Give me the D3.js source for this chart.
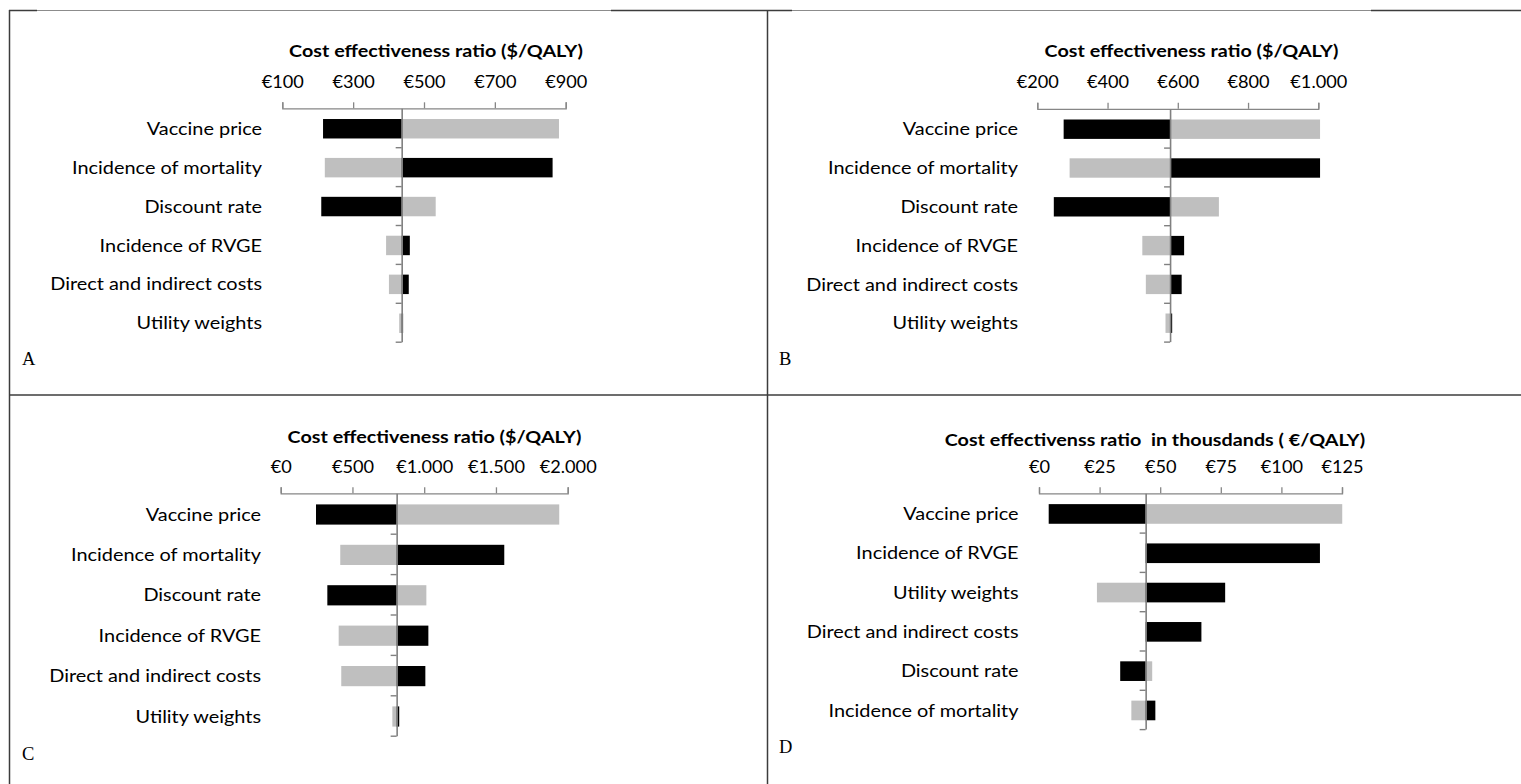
<!DOCTYPE html>
<html>
<head>
<meta charset="utf-8">
<script src="https://cdn.jsdelivr.net/npm/d3@7"></script>
<style>
  body { margin: 0; background: #ffffff; }
  svg { display: block; }
</style>
</head>
<body>
<svg id="chart" width="1521" height="784"></svg>
<script>
// ---------------- DATA ----------------
const titleABC = "Cost effectiveness ratio ($/QALY)";
const titleD = "Cost effectivenss ratio  in thousdands ( €/QALY)";

const categoriesA = ["Vaccine price", "Incidence of mortality", "Discount rate", "Incidence of RVGE", "Direct and indirect costs", "Utility weights"];
const baseA = 437;
const lowInputA = [215, 863, 210, 460, 457, 441];    // black bars
const highInputA = [881, 220, 533, 393, 401, 430];   // grey bars
const ticksA = [100, 300, 500, 700, 900];

const categoriesB = ["Vaccine price", "Incidence of mortality", "Discount rate", "Incidence of RVGE", "Direct and indirect costs", "Utility weights"];
const baseB = 578;
const lowInputB = [275, 1005, 247, 618, 611, 584];
const highInputB = [1005, 292, 717, 499, 509, 565];
const ticksB = [200, 400, 600, 800, 1000];

const categoriesC = ["Vaccine price", "Incidence of mortality", "Discount rate", "Incidence of RVGE", "Direct and indirect costs", "Utility weights"];
const baseC = 808;
const lowInputC = [246, 1558, 325, 1029, 1008, 826];
const highInputC = [1941, 415, 1015, 404, 422, 778];
const ticksC = [0, 500, 1000, 1500, 2000];

const categoriesD = ["Vaccine price", "Incidence of RVGE", "Utility weights", "Direct and indirect costs", "Discount rate", "Incidence of mortality"];
const baseD = 44;
const lowInputD = [4, 115.9, 76.8, 67, 33.5, 48];
const highInputD = [125.1, 44, 23.9, 44, 46.7, 38.1];
const ticksD = [0, 25, 50, 75, 100, 125];

const panelLetters = ["A", "B", "C", "D"];

// ---------------- SETUP ----------------
const svg = d3.select("#chart");
const FONT = "Lato, 'Open Sans', sans-serif";
const SERIF = "'Liberation Serif', 'DejaVu Serif', serif";
const LABEL_SIZE = 17;
const TICK_SIZE = 17;
const TITLE_SIZE = 17.5;

const euro = d3.formatLocale({ decimal: ",", thousands: ".", grouping: [3], currency: ["€", ""] }).format("$,.0f");

// horizontal stretch of the chart text (the source figure is stretched horizontally)
function stretchFor(str, size, weight, target) {
  const t = svg.append("text").attr("font-family", FONT).attr("font-size", size)
    .attr("font-weight", weight).style("white-space", "pre").text(str);
  const w = t.node().getComputedTextLength();
  t.remove();
  return target / w;
}
const sxLabel = stretchFor("Incidence of mortality", LABEL_SIZE, "normal", 190);
const sxTick = stretchFor("€1.000", TICK_SIZE, "normal", 57);
const sxTitle = stretchFor(titleABC, TITLE_SIZE, "bold", 294);

// ---------------- FRAME ----------------
const frame = svg.append("g");
frame.append("line").attr("x1", 9).attr("x2", 1521).attr("y1", 10.5).attr("y2", 10.5)
  .attr("stroke", "#8c8c8c").attr("stroke-width", 1.2);
[[9, 37], [611, 792], [1371, 1521]].forEach(s => {
  frame.append("line").attr("x1", s[0]).attr("x2", s[1]).attr("y1", 10.5).attr("y2", 10.5)
    .attr("stroke", "#3c3c3c").attr("stroke-width", 1.5);
});
frame.append("line").attr("x1", 9.5).attr("x2", 9.5).attr("y1", 10).attr("y2", 784).attr("stroke", "#3c3c3c").attr("stroke-width", 1.5);
frame.append("line").attr("x1", 767.5).attr("x2", 767.5).attr("y1", 10).attr("y2", 784).attr("stroke", "#3c3c3c").attr("stroke-width", 1.5);
frame.append("line").attr("x1", 9).attr("x2", 1521).attr("y1", 395).attr("y2", 395).attr("stroke", "#3c3c3c").attr("stroke-width", 1.5);

// ---------------- PANELS ----------------
const panels = [
  { cats: categoriesA, low: lowInputA, high: highInputA, base: baseA, ticks: ticksA, title: titleABC,
    range: [282.3, 565.7], axisY: 108.3, band: 38.9, labelRight: 262, titleX: 436, titleBase: 57.3, tickBase: 88.3, letter: [22, 365] },
  { cats: categoriesB, low: lowInputB, high: highInputB, base: baseB, ticks: ticksB, title: titleABC,
    range: [1037.3, 1318.3], axisY: 108.8, band: 38.8, labelRight: 1018, titleX: 1191.5, titleBase: 57.3, tickBase: 88.3, letter: [779, 365] },
  { cats: categoriesC, low: lowInputC, high: highInputC, base: baseC, ticks: ticksC, title: titleABC,
    range: [280.7, 567.7], axisY: 493.3, band: 40.4, labelRight: 261, titleX: 434.5, titleBase: 443, tickBase: 473, letter: [22, 760] },
  { cats: categoriesD, low: lowInputD, high: highInputD, base: baseD, ticks: ticksD, title: titleD,
    range: [1039, 1342], axisY: 493.3, band: 39.3, labelRight: 1018.5, titleX: 1155, titleBase: 446, tickBase: 473, letter: [779, 752.7] }
];

panels.forEach((p, pi) => {
  const g = svg.append("g");
  const n = p.cats.length;
  const x = d3.scaleLinear().domain([p.ticks[0], p.ticks[p.ticks.length - 1]]).range(p.range);
  const y = d3.scaleBand().domain(p.cats).range([p.axisY, p.axisY + p.band * n]).paddingInner(0.5).paddingOuter(0.25);
  const rows = p.cats.map((c, i) => ({ c, low: p.low[i], high: p.high[i] }));

  // grey bars (high input)
  g.selectAll("rect.hi").data(rows).join("rect").attr("class", "hi")
    .attr("x", d => Math.min(x(p.base), x(d.high)))
    .attr("width", d => Math.abs(x(d.high) - x(p.base)))
    .attr("y", d => y(d.c) + 1)
    .attr("height", y.bandwidth())
    .attr("fill", "#bfbfbf");
  // black bars (low input)
  g.selectAll("rect.lo").data(rows).join("rect").attr("class", "lo")
    .attr("x", d => Math.min(x(p.base), x(d.low)))
    .attr("width", d => Math.abs(x(d.low) - x(p.base)))
    .attr("y", d => y(d.c) + 1)
    .attr("height", y.bandwidth())
    .attr("fill", "#000000");

  // top value axis
  const axg = g.append("g").attr("transform", `translate(0,${p.axisY})`)
    .call(d3.axisTop(x).tickValues(p.ticks).tickSize(6).tickSizeOuter(6).tickFormat(euro));
  axg.select(".domain").attr("stroke", "#868686").attr("stroke-width", 1.3);
  axg.selectAll(".tick line").attr("stroke", "#868686").attr("stroke-width", 1.3);
  axg.selectAll(".tick text")
    .attr("y", null).attr("dy", null)
    .attr("transform", `translate(0,${p.tickBase - p.axisY}) scale(${sxTick},1)`)
    .attr("font-family", FONT).attr("font-size", TICK_SIZE).attr("fill", "#000");

  // vertical category axis at the base value
  const yIdx = d3.scaleLinear().domain([0, n]).range([p.axisY, p.axisY + p.band * n]);
  const cax = g.append("g").attr("transform", `translate(${x(p.base)},0)`)
    .call(d3.axisLeft(yIdx).tickValues(d3.range(1, n + 1)).tickSize(6).tickSizeOuter(0).tickFormat(""));
  cax.select(".domain").attr("stroke", "#808080").attr("stroke-width", 1.6);
  cax.selectAll(".tick line").attr("stroke", "#808080").attr("stroke-width", 1.4);

  // category labels
  g.selectAll("text.cat").data(p.cats).join("text").attr("class", "cat")
    .attr("transform", d => `translate(${p.labelRight},${y(d) + 1 + y.bandwidth() / 2}) scale(${sxLabel},1)`)
    .attr("dy", "0.36em")
    .attr("text-anchor", "end")
    .attr("font-family", FONT).attr("font-size", LABEL_SIZE).attr("fill", "#000")
    .text(d => d);

  // title
  g.append("text")
    .attr("transform", `translate(${p.titleX},${p.titleBase}) scale(${sxTitle},1)`)
    .attr("text-anchor", "middle")
    .attr("font-family", FONT).attr("font-size", TITLE_SIZE).attr("font-weight", "bold").attr("fill", "#000")
    .style("white-space", "pre")
    .text(p.title);

  // panel letter
  g.append("text")
    .attr("x", p.letter[0]).attr("y", p.letter[1])
    .attr("font-family", SERIF).attr("font-size", 18.5).attr("fill", "#000")
    .text(panelLetters[pi]);
});
</script>
</body>
</html>
